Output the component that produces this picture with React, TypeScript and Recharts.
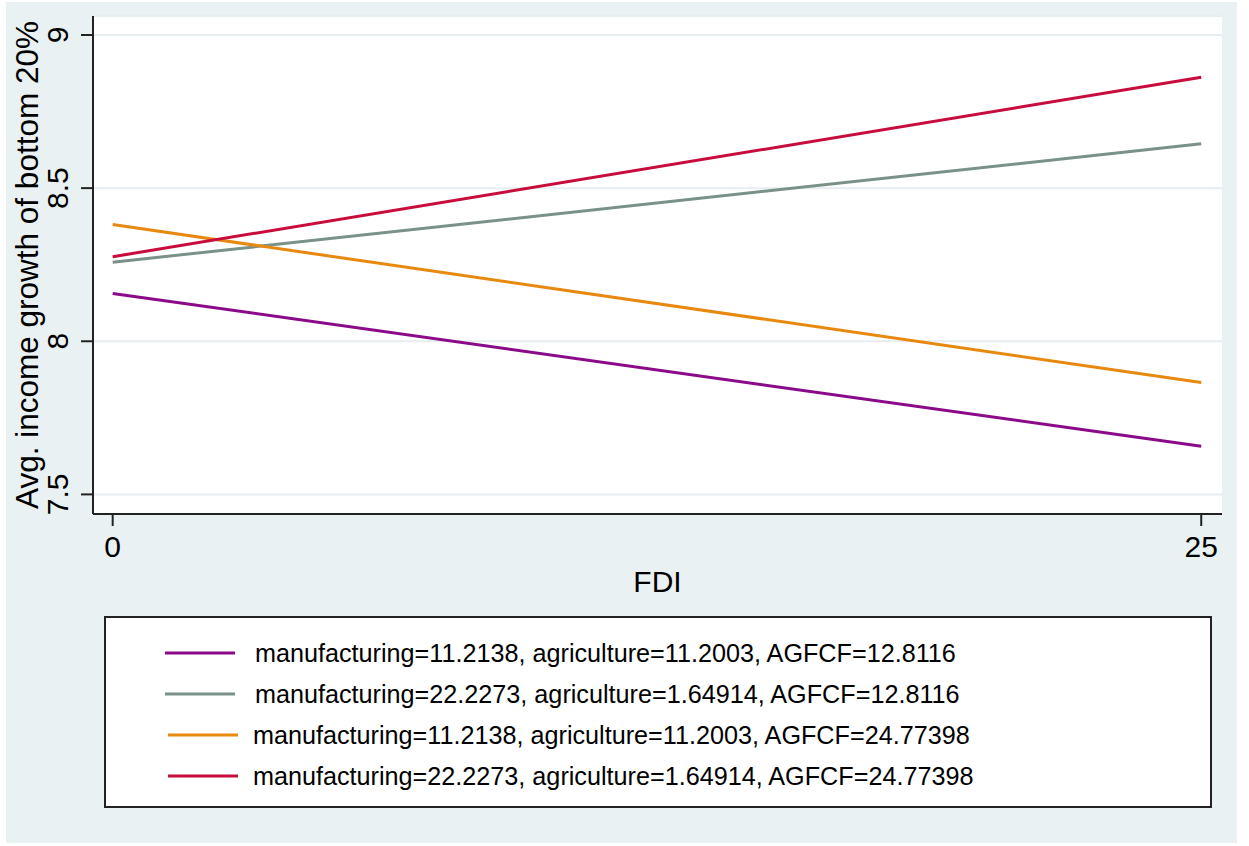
import React from 'react'
import { LineChart, Line, XAxis, YAxis, CartesianGrid, Label } from 'recharts'

const fdi = [0, 25]
const series1 = [8.156, 7.657]
const series2 = [8.258, 8.645]
const series3 = [8.381, 7.865]
const series4 = [8.276, 8.862]
const xTicks = [0, 25]
const yTicks = [7.5, 8, 8.5, 9]
const seriesNames = [
  'manufacturing=11.2138, agriculture=11.2003, AGFCF=12.8116',
  'manufacturing=22.2273, agriculture=1.64914, AGFCF=12.8116',
  'manufacturing=11.2138, agriculture=11.2003, AGFCF=24.77398',
  'manufacturing=22.2273, agriculture=1.64914, AGFCF=24.77398',
]
const colors = ['#8a0a8a', '#7a9187', '#e8890f', '#c80c3c']

const data = fdi.map((x, i) => ({
  x,
  s1: series1[i],
  s2: series2[i],
  s3: series3[i],
  s4: series4[i],
}))

const font = '"Liberation Sans", Arial, Helvetica, sans-serif'
const bg = '#eaf1f3'

function YTick(props: any) {
  const { x, y, payload } = props
  const tx = x - 11
  return (
    <text
      x={tx}
      y={y}
      transform={`rotate(-90, ${tx}, ${y})`}
      textAnchor="middle"
      fontSize={30}
      fill="#000"
      fontFamily={font}
    >
      {payload.value}
    </text>
  )
}

export default function App() {
  const keys = ['s1', 's2', 's3', 's4']
  return (
    <div style={{ position: 'fixed', left: 0, top: 0, width: 1249, height: 846, background: '#fff', fontFamily: font }}>
      <div style={{ position: 'absolute', left: 6, top: 2, width: 1231, height: 841, background: bg }} />
      <div style={{ position: 'absolute', left: 0, top: 0 }}>
        <LineChart width={1249} height={600} data={data} margin={{ top: 16, right: 27, left: 0, bottom: 0 }}>
          <CartesianGrid horizontal vertical={false} fill="#ffffff" stroke="#e6eef1" strokeWidth={2} />
          <XAxis
            type="number"
            dataKey="x"
            domain={[-0.452, 25.477]}
            ticks={xTicks}
            allowDataOverflow
            height={86}
            tickSize={12}
            tickMargin={10}
            axisLine={{ stroke: '#222', strokeWidth: 2 }}
            tickLine={{ stroke: '#222', strokeWidth: 2 }}
            tick={{ fontSize: 30, fill: '#000', fontFamily: font }}
          >
            <Label
              content={(p: any) => {
                const vb = p.viewBox
                return (
                  <text x={vb.x + vb.width / 2} y={592} textAnchor="middle" fontSize={30} fill="#000" fontFamily={font}>
                    FDI
                  </text>
                )
              }}
            />
          </XAxis>
          <YAxis
            type="number"
            domain={[7.436, 9.062]}
            ticks={yTicks}
            allowDataOverflow
            width={93}
            tickSize={12}
            axisLine={{ stroke: '#222', strokeWidth: 2 }}
            tickLine={{ stroke: '#222', strokeWidth: 2 }}
            tick={<YTick />}
          >
            <Label
              content={(p: any) => {
                const vb = p.viewBox
                const cy = vb.y + vb.height / 2
                return (
                  <text
                    x={38}
                    y={cy}
                    transform={`rotate(-90, 38, ${cy})`}
                    textAnchor="middle"
                    fontSize={31.5}
                    fill="#000"
                    fontFamily={font}
                  >
                    Avg. income growth of bottom 20%
                  </text>
                )
              }}
            />
          </YAxis>
          {keys.map((k, i) => (
            <Line
              key={k}
              type="linear"
              dataKey={k}
              name={seriesNames[i]}
              stroke={colors[i]}
              strokeWidth={3}
              dot={false}
              isAnimationActive={false}
            />
          ))}
        </LineChart>
      </div>
      <div
        style={{
          position: 'absolute',
          left: 104,
          top: 616,
          width: 1108,
          height: 192,
          boxSizing: 'border-box',
          border: '2px solid #222',
          background: '#fff',
        }}
      >
        {seriesNames.map((name, i) => (
          <div key={name} style={{ position: 'absolute', left: 0, top: 35 + i * 41 - 15, height: 30, width: '100%' }}>
            <svg width={80} height={30} style={{ position: 'absolute', left: 59 + (i >= 2 ? 3 : 0), top: 0 }}>
              <line x1={0} y1={15} x2={70} y2={15} stroke={colors[i]} strokeWidth={3} />
            </svg>
            <span
              style={{
                position: 'absolute',
                left: 149 - (i >= 2 ? 2 : 0),
                top: 0,
                lineHeight: '30px',
                fontSize: 25.2,
                color: '#000',
                whiteSpace: 'nowrap',
              }}
            >
              {name}
            </span>
          </div>
        ))}
      </div>
    </div>
  )
}
